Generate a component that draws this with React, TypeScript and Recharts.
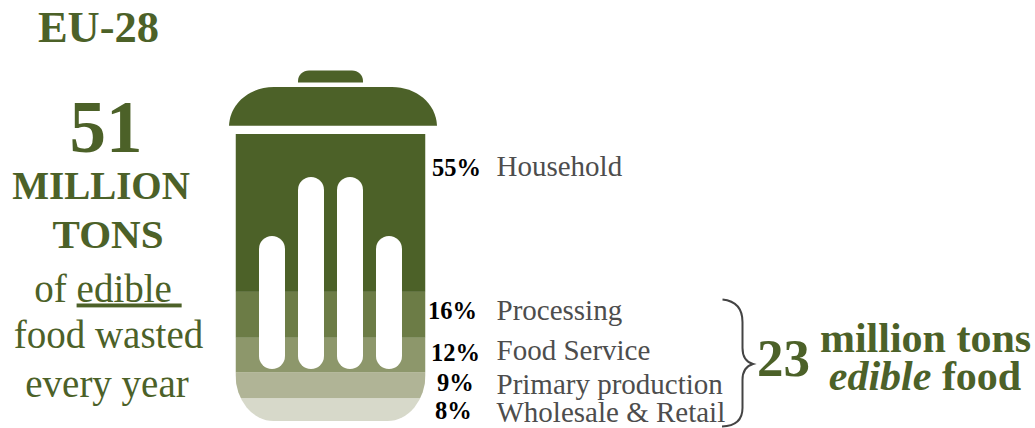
import React from 'react';
import { BarChart, Bar, XAxis, YAxis } from 'recharts';

const WIDTH = 1035;
const HEIGHT = 428;

// Waste by sector, listed from the top of the bin downwards.
const categories = ['Household', 'Processing', 'Food Service', 'Primary production', 'Wholesale & Retail'];
const shares = [55, 16, 12, 9, 8];
const fills = ['#4c6128', '#6c7c46', '#8d976b', '#b0b496', '#d7d9ca'];

const row: Record<string, string | number> = { region: 'EU-28' };
categories.forEach((c, i) => {
  row[c] = shares[i];
});
const chartData = [row];

const GREEN = '#4c6128';
const GREY = '#4d4d4d';
const SERIF = '"Liberation Serif", "Times New Roman", serif';

// Baselines and left edges for the sector labels, same order as categories.
const percentBaselines = [176, 319, 361, 391, 419];
const percentLeft = [432, 428, 431, 437, 435];
const nameBaselines = [176, 320, 360, 394, 422];

// Vents cut out of the bin body.
const vents = [
  { x: 259, top: 236 },
  { x: 298, top: 177 },
  { x: 337, top: 177 },
  { x: 376, top: 236 },
];

const BinSegment = (props: any) => (
  <rect
    x={props.x}
    y={props.y}
    width={props.width}
    height={props.height}
    fill={props.fill}
    clipPath="url(#bin-body)"
  />
);

export default function App() {
  return (
    <div style={{ position: 'absolute', left: 0, top: 0, width: WIDTH, height: HEIGHT, background: '#fff' }}>
      <BarChart
        width={WIDTH}
        height={HEIGHT}
        data={chartData}
        stackOffset="none"
        barCategoryGap={0}
        margin={{ top: 134, bottom: 7, left: 235.5, right: 609.5 }}
      >
        <defs>
          <clipPath id="bin-body">
            <path d="M235.5 134H425.5V375A38 46 0 0 1 387.5 421H273.5A38 46 0 0 1 235.5 375Z" />
          </clipPath>
        </defs>
        <XAxis dataKey="region" hide />
        <YAxis type="number" domain={[0, 100]} hide />
        {[...categories].reverse().map((c) => (
          <Bar
            key={c}
            dataKey={c}
            stackId="bin"
            fill={fills[categories.indexOf(c)]}
            shape={BinSegment}
            isAnimationActive={false}
          />
        ))}
      </BarChart>

      <svg
        width={WIDTH}
        height={HEIGHT}
        style={{ position: 'absolute', left: 0, top: 0, pointerEvents: 'none' }}
        fontFamily={SERIF}
      >
        {/* lid and handle */}
        <path d="M298 82.5V81C298 75 303 70.5 309 70.5H352C358 70.5 363 75 363 81V82.5Z" fill={GREEN} />
        <path d="M229 125.7C230 103 250 87 274 87H392C416 87 436 103 437 125.7Z" fill={GREEN} />

        {vents.map((v) => (
          <rect key={v.x} x={v.x} y={v.top} width={26} height={369 - v.top} rx={13} ry={13} fill="#fff" />
        ))}

        {/* left-hand headline */}
        <g fill={GREEN} textAnchor="middle">
          <text x={98.5} y={42} fontSize={44.5} fontWeight="bold">EU-28</text>
          <text x={106} y={152} fontSize={73} fontWeight="bold">51</text>
          <text x={101} y={199} fontSize={39} fontWeight="bold">MILLION</text>
          <text x={108} y={248} fontSize={41} fontWeight="bold">TONS</text>
          <text x={108} y={301.5} fontSize={39} xmlSpace="preserve">
            of <tspan textDecoration="underline">edible </tspan>
          </text>
          <text x={108.5} y={348} fontSize={39}>food wasted</text>
          <text x={107} y={397} fontSize={39}>every year</text>
        </g>

        {/* sector labels */}
        {categories.map((c, i) => (
          <g key={c}>
            <text x={percentLeft[i]} y={percentBaselines[i]} fontSize={24.5} fontWeight="bold" fill="#000">
              {shares[i]}%
            </text>
            <text x={496.5} y={nameBaselines[i]} fontSize={29} fill={GREY}>
              {c}
            </text>
          </g>
        ))}

        {/* brace around the non-household sectors */}
        <path
          d="M722.5 299.5C736 301 742.5 308 742.5 322V348C742.5 357 746 362 753 364C746 366 742.5 371 742.5 380V408C742.5 420 736 426 722 426.5"
          fill="none"
          stroke="#444"
          strokeWidth={2}
        />

        <g fill={GREEN} fontWeight="bold">
          <text x={757} y={376} fontSize={53}>23</text>
          <text x={925.5} y={351.5} fontSize={42} textAnchor="middle">million tons</text>
          <text x={925} y={390} fontSize={42} textAnchor="middle">
            <tspan fontStyle="italic">edible</tspan> food
          </text>
        </g>
      </svg>
    </div>
  );
}
